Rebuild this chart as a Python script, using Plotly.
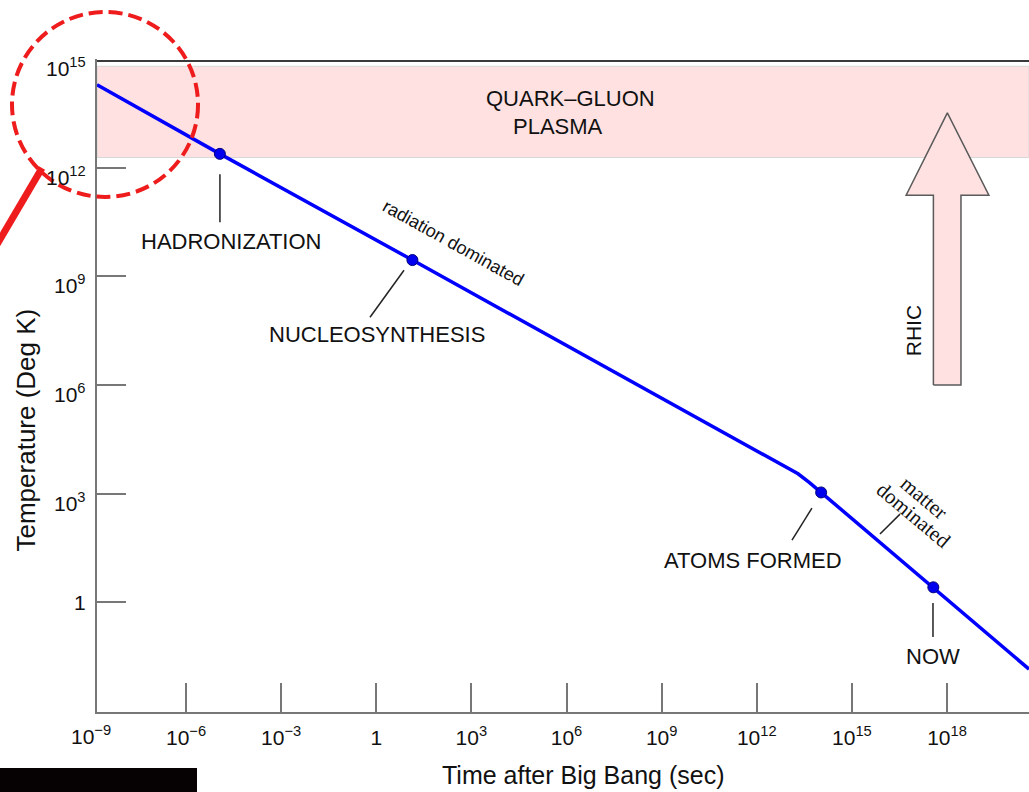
import numpy as np
import plotly.graph_objects as go

# Temperature of the universe vs. time after the Big Bang
line_time = [1.56e-9, 1.17e-5, 13.8, 8.9e12, 2.0e13, 4.5e13, 1.07e14, 3.7e17, 3.85e20]   # s
line_temp = [1.95e14, 2.4e12, 2.8e9, 5.47e3, 3.51e3, 2.04e3, 1.07e3, 2.57, 0.0141]        # K

# Milestones marked on the curve
event_names = ["HADRONIZATION", "NUCLEOSYNTHESIS", "ATOMS FORMED", "NOW"]
event_time = [1.17e-5, 13.8, 1.07e14, 3.7e17]
event_temp = [2.4e12, 2.8e9, 1.07e3, 2.57]

# Label anchors and leader lines (log10 units)
label_logt = [-4.58, 0.01, 11.88, 17.56]
label_logT = [9.97, 7.40, 1.16, -1.49]
leader_logt = [(-4.93, -4.93), (0.875, -0.197), (13.74, 13.11), (17.557, 17.557),
               (15.886, 16.517)]
leader_logT = [(11.815, 10.49), (9.165, 7.868), (2.596, 1.713), (-0.026, -0.965),
               (1.88, 2.43)]

# Quark-gluon plasma band (K)
qgp_low, qgp_high = 1.9e12, 6.3e14

# RHIC arrow outline (log10 time, log10 temperature)
rhic_logt = [17.57, 18.44, 18.44, 19.32, 18.01, 16.71, 17.57, 17.57]
rhic_logT = [6.0, 6.0, 11.24, 11.24, 13.51, 11.24, 11.24, 6.0]

# Axis ticks
x_tick_vals = [1e-6, 1e-3, 1, 1e3, 1e6, 1e9, 1e12, 1e15, 1e18]
x_tick_text = ["10<sup>\u22126</sup>", "10<sup>\u22123</sup>", "1", "10<sup>3</sup>",
               "10<sup>6</sup>", "10<sup>9</sup>", "10<sup>12</sup>", "10<sup>15</sup>",
               "10<sup>18</sup>"]
y_tick_vals = [1, 1e3, 1e6, 1e9, 1e12, 1e15]
y_tick_text = ["1", "10<sup>3</sup>", "10<sup>6</sup>", "10<sup>9</sup>",
               "10<sup>12</sup>", "10<sup>15</sup>"]

SANS = "Liberation Sans, Arial, Helvetica, sans-serif"
SERIF = "Liberation Serif, Times New Roman, serif"
PINK = "#FFE1E1"
AXIS = "#777777"
INK = "#111111"
TICK_SIZE = 21

fig = go.Figure()

# RHIC arrow
fig.add_trace(go.Scatter(
    x=[10 ** v for v in rhic_logt], y=[10 ** v for v in rhic_logT],
    mode="lines", fill="toself", fillcolor=PINK,
    line=dict(color="#5a5a5a", width=1.5), hoverinfo="skip", showlegend=False))

# Leader lines
lx, ly = [], []
for (a, b), (c, d) in zip(leader_logt, leader_logT):
    lx += [10 ** a, 10 ** b, None]
    ly += [10 ** c, 10 ** d, None]
fig.add_trace(go.Scatter(x=lx, y=ly, mode="lines",
                         line=dict(color="#222222", width=1.5),
                         hoverinfo="skip", showlegend=False))

# Temperature curve
fig.add_trace(go.Scatter(x=line_time, y=line_temp, mode="lines",
                         line=dict(color="#0000FF", width=3.5),
                         showlegend=False))

# Milestone dots
fig.add_trace(go.Scatter(x=event_time, y=event_temp, mode="markers",
                         marker=dict(color="#0000EE", size=11,
                                     line=dict(color="#00007a", width=1)),
                         text=event_names, showlegend=False))

annotations = []
for name, xt, yt in zip(event_names, label_logt, label_logT):
    annotations.append(dict(x=xt, y=yt, xref="x", yref="y", text=name,
                            xanchor="center", yanchor="middle",
                            showarrow=False, font=dict(family=SANS, size=22, color=INK)))

# Y tick labels
for v, t in zip(y_tick_vals, y_tick_text):
    annotations.append(dict(x=-0.0097, xref="paper", y=np.log10(v), yref="y",
                            text=t, xanchor="right", yanchor="middle",
                            yshift=0 if v == 1 else -8, showarrow=False,
                            font=dict(family=SANS, size=TICK_SIZE, color=INK)))

# Leftmost x tick label (sits just left of the frame)
annotations.append(dict(x=-0.0064, xref="paper", y=0, yref="paper",
                        text="10<sup>\u22129</sup>", xanchor="center", yanchor="top",
                        yshift=-8, showarrow=False,
                        font=dict(family=SANS, size=TICK_SIZE, color=INK)))

annotations += [
    dict(x=6.141, y=13.913, xref="x", yref="y", text="QUARK\u2013GLUON", showarrow=False,
         font=dict(family=SANS, size=22, color=INK)),
    dict(x=5.731, y=13.139, xref="x", yref="y", text="PLASMA", showarrow=False,
         font=dict(family=SANS, size=22, color=INK)),
    dict(x=2.42, y=9.91, xref="x", yref="y", text="radiation dominated", textangle=29,
         showarrow=False, font=dict(family=SANS, size=18, color=INK)),
    dict(x=17.27, y=2.872, xref="x", yref="y", text="matter", textangle=40,
         showarrow=False, font=dict(family=SERIF, size=21, color=INK)),
    dict(x=16.93, y=2.403, xref="x", yref="y", text="dominated", textangle=40,
         showarrow=False, font=dict(family=SERIF, size=21, color=INK)),
    dict(x=16.926, y=7.509, xref="x", yref="y", text="RHIC", textangle=-90,
         showarrow=False, font=dict(family=SANS, size=21, color=INK)),
    dict(x=0.5225, y=-0.0965, xref="paper", yref="paper", text="Time after Big Bang (sec)",
         xanchor="center", yanchor="middle",
         showarrow=False, font=dict(family=SANS, size=25, color=INK)),
    dict(x=-0.0762, y=0.4326, xref="paper", yref="paper", text="Temperature (Deg K)",
         xanchor="center", yanchor="middle",
         textangle=-90, showarrow=False, font=dict(family=SANS, size=26, color=INK)),
]

shapes = [
    # quark-gluon plasma region
    dict(type="rect", xref="paper", yref="y", x0=0, x1=1, y0=qgp_low, y1=qgp_high,
         fillcolor=PINK, line=dict(color="#d8d8d8", width=1), layer="below"),
    # top frame
    dict(type="line", xref="paper", yref="paper", x0=0, x1=1, y0=0.9969, y1=0.9969,
         line=dict(color="#3a3a3a", width=2)),
    # highlight circle and pointer
    dict(type="circle", xref="paper", yref="paper", x0=-0.0912, x1=0.1084,
         y0=0.7887, y1=1.0720, line=dict(color="#EE1C1C", width=4, dash="14px,6px")),
    dict(type="line", xref="paper", yref="paper", x0=-0.059, y0=0.833,
         x1=-0.1148, y1=0.698, line=dict(color="#EE1C1C", width=7)),
    # black bar at the lower left
    dict(type="rect", xref="paper", yref="paper", x0=-0.106, x1=0.1073,
         y0=-0.0858, y1=-0.16, fillcolor="#060203", line=dict(width=0)),
]

fig.update_layout(
    width=1029, height=792,
    margin=dict(l=97, r=0, t=59, b=80),
    paper_bgcolor="white", plot_bgcolor="white",
    showlegend=False,
    annotations=annotations, shapes=shapes,
    xaxis=dict(type="log", range=[-8.807, 20.585], tickvals=x_tick_vals,
               ticktext=x_tick_text, ticks="inside", ticklen=29, tickwidth=2,
               tickcolor=AXIS, showline=True, linecolor=AXIS, linewidth=2,
               showgrid=False, zeroline=False, ticklabelstandoff=6,
               tickfont=dict(family=SANS, size=TICK_SIZE, color=INK)),
    yaxis=dict(type="log", range=[-3.034, 15.0], tickvals=y_tick_vals,
               ticks="inside", ticklen=29, tickwidth=2, tickcolor=AXIS,
               showline=True, linecolor=AXIS, linewidth=2, showgrid=False,
               zeroline=False, showticklabels=False),
)

fig.write_html("out.html")
